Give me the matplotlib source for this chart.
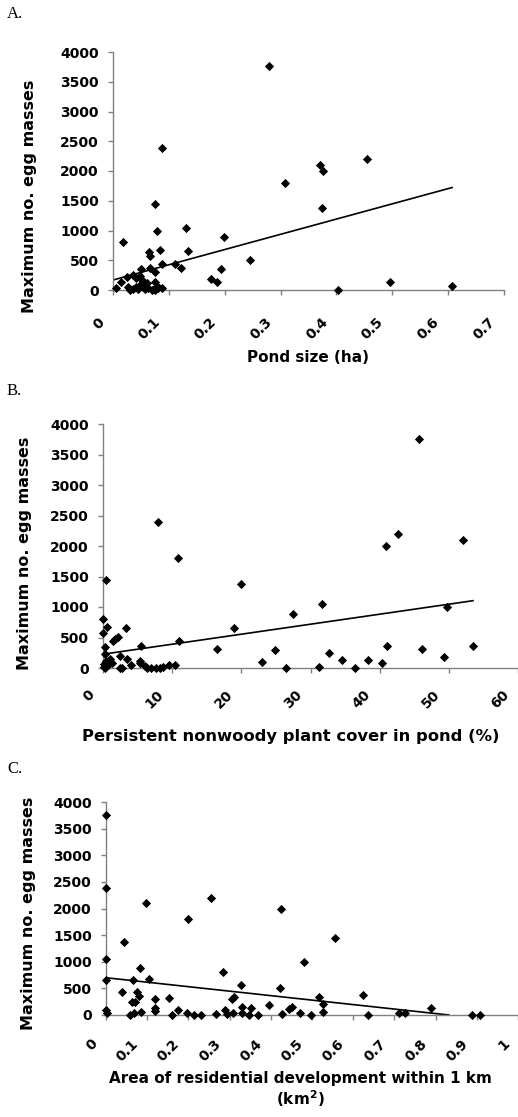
import matplotlib
matplotlib.use("Agg")
import matplotlib.pyplot as plt
import matplotlib.transforms as mtransforms
import numpy as np

# ---------------------
# Data
# ---------------------
pond_size = [0.280, 0.088, 0.455, 0.370, 0.376, 0.308, 0.076, 0.375, 0.131, 0.078,
             0.018, 0.198, 0.084, 0.135, 0.065, 0.066, 0.246, 0.088, 0.111, 0.122,
             0.194, 0.066, 0.051, 0.076, 0.175, 0.186, 0.496, 0.607, 0.403,
             0.006, 0.015, 0.025, 0.035, 0.042, 0.048, 0.052, 0.027, 0.036, 0.042,
             0.048, 0.054, 0.060, 0.063, 0.069, 0.075, 0.078, 0.081, 0.087, 0.075,
             0.030, 0.045, 0.057]
eggs_a = [3760, 2390, 2200, 2100, 2000, 1800, 1450, 1380, 1050, 1000,
          800, 890, 670, 650, 640, 570, 500, 440, 440, 365,
          360, 370, 350, 300, 190, 130, 130, 75, 0,
          28, 140, 213, 252, 196, 235, 168, 45, 11, 45,
          84, 56, 112, 28, 0, 140, 67, 28, 28, 0,
          0, 10, 20]

plant_cover = [45.7, 7.9, 42.6, 52.1, 40.9, 10.9, 0.5, 20.0, 31.7, 49.8,
               27.4, 0.0, 0.6, 3.3, 18.9, 0.0, 1.4, 1.8, 2.1, 11.0,
               5.5, 0.24, 16.5, 24.8, 41.0, 46.1, 53.5, 32.7, 49.3, 23.0,
               34.5, 38.3, 40.4, 31.2, 26.5, 36.5, 9.6, 10.4, 2.4, 2.8,
               3.5, 4.1, 0.24, 2.4, 1.0, 5.4, 5.3, 6.0, 6.4, 7.0,
               7.7, 8.2, 8.7, 0.5, 0.2, 0.1, 1.3, 0.7, 0.3]
eggs_b = [3760, 2390, 2200, 2100, 2000, 1800, 1450, 1380, 1050, 1000,
          890, 800, 670, 650, 650, 570, 440, 480, 510, 437,
          366, 344, 306, 300, 366, 311, 355, 246, 186, 98,
          131, 137, 77, 22, 0, 0, 44, 44, 0, 0,
          148, 44, 230, 191, 148, 109, 82, 38, 0, 0,
          0, 0, 10, 120, 60, 20, 90, 50, 0]

resid_area = [0.0, 0.0, 0.254, 0.424, 0.096, 0.200, 0.555, 0.043, 0.481, 0.0,
              0.082, 0.285, 0.0, 0.065, 0.105, 0.327, 0.423, 0.039, 0.075, 0.081,
              0.118, 0.153, 0.310, 0.306, 0.516, 0.623, 0.526, 0.395, 0.063, 0.070,
              0.118, 0.118, 0.174, 0.789, 0.288, 0.330, 0.351, 0.443, 0.451, 0.0,
              0.003, 0.086, 0.067, 0.058, 0.159, 0.197, 0.214, 0.230, 0.268, 0.293,
              0.308, 0.329, 0.348, 0.370, 0.426, 0.471, 0.498, 0.526, 0.637, 0.710,
              0.726, 0.889, 0.908]
eggs_c = [3760, 2390, 2200, 2000, 2100, 1800, 1450, 1380, 1000, 1050,
          890, 800, 650, 650, 670, 570, 500, 440, 440, 363,
          300, 312, 344, 294, 344, 369, 200, 188, 238, 238,
          125, 81, 94, 138, 94, 144, 138, 119, 144, 94,
          44, 63, 44, 0, 0, 44, 0, 0, 13, 19,
          31, 44, 0, 0, 19, 44, 0, 63, 0, 44,
          44, 0, 0]

# trend lines (intercept, slope) as drawn in the figure
trend_a = (168, 2560)
trend_b = (226, 16.4)
trend_c = (700, -841)

y_ticks = list(range(0, 4001, 500))
x_ticks_a = [0, 0.1, 0.2, 0.3, 0.4, 0.5, 0.6, 0.7]
x_ticks_b = [0, 10, 20, 30, 40, 50, 60]
x_ticks_c = [0, 0.1, 0.2, 0.3, 0.4, 0.5, 0.6, 0.7, 0.8, 0.9, 1]

# ---------------------
# Figure
# ---------------------
plt.rcParams["font.family"] = ["DejaVu Sans"]
plt.rcParams["font.weight"] = "bold"

W, H = 518, 1117
fig = plt.figure(figsize=(W / 100, H / 100), dpi=100)


def px_axes(left, right, top, bottom):
    return fig.add_axes([left / W, 1 - bottom / H, (right - left) / W, (bottom - top) / H])


panels = [
    dict(ax=px_axes(113, 504, 52, 290), x=pond_size, y=eggs_a, trend=trend_a,
         xlim=(0, 0.7), xticks=x_ticks_a, xlabel="Pond size (ha)", letter="A.",
         letter_y=14, xpad=14.5, xlab=(308, 358, 11), ylab=(37, 196)),
    dict(ax=px_axes(103, 518, 424, 668), x=plant_cover, y=eggs_b, trend=trend_b,
         xlim=(0, 60), xticks=x_ticks_b,
         xlabel="Persistent nonwoody plant cover in pond (%)", letter="B.",
         letter_y=391, xpad=10.5, xlab=(291, 737, 11.8), ylab=(32, 553)),
    dict(ax=px_axes(106, 518, 802, 1015), x=resid_area, y=eggs_c, trend=trend_c,
         xlim=(0, 1), xticks=x_ticks_c,
         xlabel="Area of residential development within 1 km\n(km$^\\mathbf{2}$)",
         letter="C.", letter_y=769, xpad=12, xlab=(300, 1090, 11), ylab=(36, 913)),
]

gray = "#808080"
shift = mtransforms.ScaledTranslation(-6 / 100, 0, fig.dpi_scale_trans)

for p in panels:
    ax = p["ax"]
    xs = np.array(p["x"])
    ax.scatter(xs, p["y"], marker="D", s=22, color="black", linewidths=0, zorder=3,
               clip_on=False)
    b0, b1 = p["trend"]
    x_end = xs.max()
    if b1 < 0:
        # trend line stops where it meets the axis
        x_end = min(x_end, -b0 / b1)
    xl = np.array([0, x_end])
    ax.plot(xl, b0 + b1 * xl, color="black", lw=1.2, zorder=2)

    ax.set_xlim(*p["xlim"])
    ax.set_ylim(0, 4000)
    ax.set_xticks(p["xticks"])
    ax.set_xticklabels([f"{t:g}" for t in p["xticks"]], rotation=45,
                       ha="right", va="top")
    ax.set_yticks(y_ticks)
    for side in ("top", "right"):
        ax.spines[side].set_visible(False)
    for side in ("left", "bottom"):
        ax.spines[side].set_color(gray)
        ax.spines[side].set_linewidth(1)
    ax.tick_params(axis="both", direction="out", length=3.6, color=gray,
                   labelsize=10, width=1)
    ax.tick_params(axis="y", pad=6.5)
    ax.tick_params(axis="x", pad=p["xpad"])
    for lab in ax.get_xticklabels():
        lab.set_transform(lab.get_transform() + shift)

    ax.set_ylabel("Maximum no. egg masses", fontsize=11.5, fontweight="bold")
    yl_x, yl_y = p["ylab"]
    l, b, w, h = ax.get_position().bounds
    ax.yaxis.set_label_coords((yl_x / W - l) / w, ((1 - yl_y / H) - b) / h)

    xl_x, xl_y, xl_size = p["xlab"]
    fig.text(xl_x / W, 1 - xl_y / H, p["xlabel"], fontsize=xl_size, fontweight="bold",
             ha="center", va="center", linespacing=1.1)
    fig.text(7 / W, 1 - p["letter_y"] / H, p["letter"], family="Liberation Serif",
             fontweight="normal", fontsize=12, va="center", ha="left")

fig.savefig("out.png", dpi=100)
